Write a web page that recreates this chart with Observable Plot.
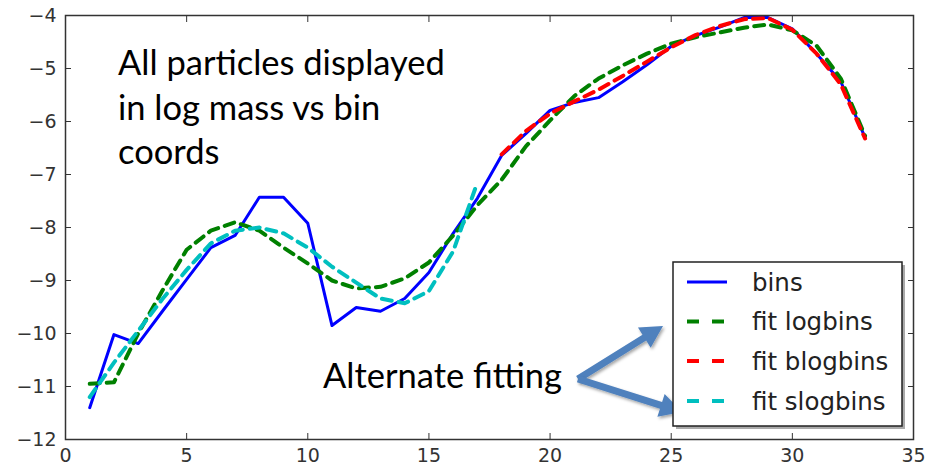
<!DOCTYPE html>
<html>
<head>
<meta charset="utf-8">
<script src="https://cdn.jsdelivr.net/npm/d3@7"></script>
<script src="https://cdn.jsdelivr.net/npm/@observablehq/plot@0.6"></script>
<style>
  body { margin: 0; background: #fff; }
  #wrap { position: relative; width: 938px; height: 468px; }
  #wrap svg.overlay { position: absolute; left: 0; top: 0; pointer-events: none; }
</style>
</head>
<body>
<div id="wrap"></div>
<script>
// ---- data ----
const binX = [1,2,3,4,5,6,7,8,9,10,11,12,13,14,15,16,17,18,19,20,21,22,23,24,25,26,27,28,29,30,31,32,33];
const bins = [-11.40,-10.02,-10.19,-9.58,-8.98,-8.38,-8.15,-7.43,-7.43,-7.92,-9.85,-9.51,-9.58,-9.34,-8.85,-8.11,-7.45,-6.64,-6.23,-5.79,-5.64,-5.55,-5.25,-4.93,-4.58,-4.38,-4.22,-4.04,-4.04,-4.25,-4.72,-5.25,-6.30];
const logbins = [-10.95,-10.92,-10.00,-9.19,-8.42,-8.06,-7.90,-8.06,-8.38,-8.68,-9.00,-9.15,-9.12,-8.96,-8.66,-8.15,-7.58,-7.10,-6.47,-5.98,-5.52,-5.19,-4.94,-4.72,-4.53,-4.41,-4.32,-4.23,-4.17,-4.28,-4.57,-5.19,-6.27];
const blogX = [18,19,20,21,22,23,24,25,26,27,28,29,30,31,32,33];
const blogbins = [-6.62,-6.18,-5.85,-5.62,-5.40,-5.14,-4.87,-4.60,-4.37,-4.20,-4.07,-4.05,-4.27,-4.72,-5.30,-6.32];
const slogX = [1,2,3,4,5,6,7,8,9,10,11,12,13,14,15,16,17];
const slogbins = [-11.20,-10.55,-9.95,-9.35,-8.80,-8.30,-8.06,-8.00,-8.11,-8.38,-8.74,-9.04,-9.34,-9.43,-9.20,-8.45,-7.15];
const xTicks = [0,5,10,15,20,25,30,35];
const yTicks = [-12,-11,-10,-9,-8,-7,-6,-5,-4];
const seriesNames = ["bins","fit logbins","fit blogbins","fit slogbins"];
const seriesColors = ["#0000ff","#008000","#ff0000","#00bfbf"];
const noteLines = ["All particles displayed","in log mass vs bin","coords"];
const arrowNote = "Alternate fitting";

const toRows = (xs, ys) => xs.map((x, i) => ({x, y: ys[i]}));

const W = 938, H = 468;
const tickFont = "DejaVu Sans, sans-serif";
const frameColor = "#333";
const dash = "10,7";
const fmt = d3.format("d");

const chart = Plot.plot({
  width: W, height: H,
  marginLeft: 65, marginRight: 25, marginTop: 15, marginBottom: 29,
  style: {background: "#fff", overflow: "visible"},
  x: {domain: [0, 35]},
  y: {domain: [-12, -4]},
  marks: [
    Plot.line(toRows(binX, bins), {x: "x", y: "y", stroke: seriesColors[0], strokeWidth: 3, clip: true}),
    Plot.line(toRows(binX, logbins), {x: "x", y: "y", stroke: seriesColors[1], strokeWidth: 4, strokeDasharray: dash, clip: true}),
    Plot.line(toRows(blogX, blogbins), {x: "x", y: "y", stroke: seriesColors[2], strokeWidth: 4, strokeDasharray: dash, clip: true}),
    Plot.line(toRows(slogX, slogbins), {x: "x", y: "y", stroke: seriesColors[3], strokeWidth: 4, strokeDasharray: dash, clip: true}),
    Plot.frame({stroke: frameColor, strokeWidth: 1.5}),
    // inward ticks on all four sides
    Plot.axisX(xTicks, {anchor: "bottom", tickSize: 6, dy: -6, text: null, stroke: frameColor, label: null}),
    Plot.axisX(xTicks, {anchor: "top", tickSize: 6, dy: 6, text: null, stroke: frameColor, label: null}),
    Plot.axisY(yTicks, {anchor: "left", tickSize: 6, dx: 6, text: null, stroke: frameColor, label: null}),
    Plot.axisY(yTicks, {anchor: "right", tickSize: 6, dx: -6, text: null, stroke: frameColor, label: null}),
    // labels
    Plot.axisX(xTicks, {anchor: "bottom", tickSize: 0, tickPadding: 9, fontSize: 19, fontFamily: tickFont, fill: "#333", label: null, tickFormat: fmt}),
    Plot.axisY(yTicks, {anchor: "left", tickSize: 0, tickPadding: 9, fontSize: 19, fontFamily: tickFont, fill: "#333", label: null, tickFormat: fmt})
  ]
});

const wrap = document.getElementById("wrap");
wrap.appendChild(chart);

// ---- overlay: annotation text, arrows, legend ----
const ov = d3.select(wrap).append("svg").attr("class", "overlay").attr("width", W).attr("height", H);

const noteFont = "Lato, 'Open Sans', sans-serif";
const note = ov.append("text").attr("font-family", noteFont).attr("font-size", 34.5).attr("fill", "#000");
noteLines.forEach((t, i) => {
  note.append("tspan").attr("x", 118).attr("y", 75 + i * 44.5).text(t);
});
ov.append("text").attr("x", 323).attr("y", 388).attr("font-family", noteFont).attr("font-size", 34.5).attr("fill", "#000").text(arrowNote);

// block arrows
function blockArrow(x0, y0, x1, y1) {
  const dx = x1 - x0, dy = y1 - y0, L = Math.hypot(dx, dy);
  const ux = dx / L, uy = dy / L, nx = -uy, ny = ux;
  const hl = 22, hw = 12, sw = 3.5;
  const bx = x1 - ux * hl, by = y1 - uy * hl;
  const pts = [
    [x0 + nx * sw, y0 + ny * sw], [bx + nx * sw, by + ny * sw], [bx + nx * hw, by + ny * hw],
    [x1, y1],
    [bx - nx * hw, by - ny * hw], [bx - nx * sw, by - ny * sw], [x0 - nx * sw, y0 - ny * sw]
  ];
  return pts.map(p => p.join(",")).join(" ");
}
const arrowColor = "#4f81bd";
const defs = ov.append("defs");
const f = defs.append("filter").attr("id", "sh").attr("x", "-20%").attr("y", "-20%").attr("width", "140%").attr("height", "140%");
f.append("feDropShadow").attr("dx", 1.5).attr("dy", 2).attr("stdDeviation", 1.5).attr("flood-color", "#000").attr("flood-opacity", 0.35);
const arrows = [[578, 379, 663, 326], [578, 379, 682, 412]];
arrows.forEach(a => {
  ov.append("polygon").attr("points", blockArrow(...a)).attr("fill", arrowColor).attr("filter", "url(#sh)");
});

// legend
const lg = ov.append("g");
lg.append("rect").attr("x", 676).attr("y", 265).attr("width", 229).attr("height", 164).attr("fill", "#aaa");
lg.append("rect").attr("x", 673).attr("y", 262).attr("width", 229).attr("height", 164).attr("fill", "#fff").attr("stroke", "#222").attr("stroke-width", 1.5);
const rowY = [282, 321.5, 361, 401];
seriesNames.forEach((name, i) => {
  lg.append("line").attr("x1", 687).attr("x2", 727).attr("y1", rowY[i]).attr("y2", rowY[i])
    .attr("stroke", seriesColors[i]).attr("stroke-width", i === 0 ? 3 : 4)
    .attr("stroke-dasharray", i === 0 ? null : "12,13");
  lg.append("text").attr("x", 752).attr("y", rowY[i]).attr("dy", "0.35em")
    .attr("font-family", tickFont).attr("font-size", 24.5).attr("fill", "#222").text(name);
});
</script>
</body>
</html>
